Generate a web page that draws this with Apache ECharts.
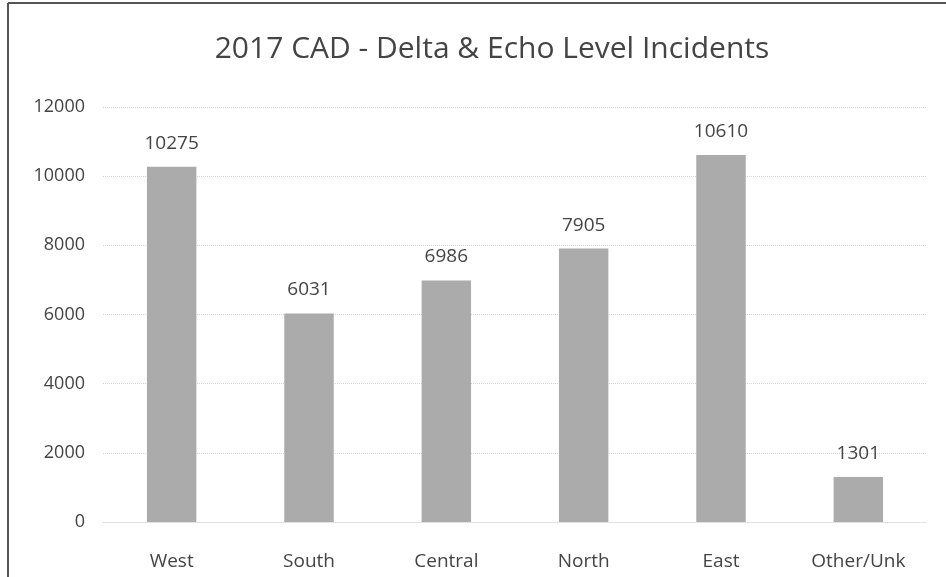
<!DOCTYPE html>
<html><head><meta charset="utf-8">
<script src="https://cdn.jsdelivr.net/npm/echarts@6/dist/echarts.min.js"></script>
<style>html,body{margin:0;padding:0;background:#fff}#c{width:946px;height:577px}</style>
</head><body><div id="c"></div>
<script>
const categories = ['West','South','Central','North','East','Other/Unk'];
const incidents = [10275, 6031, 6986, 7905, 10610, 1301];
const yTicks = [0, 2000, 4000, 6000, 8000, 10000, 12000];

const chart = echarts.init(document.getElementById('c'));
chart.setOption({
  animation: false,
  backgroundColor: '#fff',
  title: {
    text: '2017 CAD - Delta & Echo Level Incidents',
    left: 487, top: 29, textAlign: 'center',
    textStyle: {fontFamily: 'Open Sans', fontWeight: 'normal', fontSize: 30, color: '#444'}
  },
  graphic: [
    {type:'line', shape:{x1:8,y1:3,x2:946,y2:3}, style:{stroke:'#555', lineWidth:2}},
    {type:'line', shape:{x1:8,y1:3,x2:8,y2:577}, style:{stroke:'#555', lineWidth:2}}
  ],
  grid: {left: 103, right: 19, top: 107, bottom: 55},
  xAxis: {
    type: 'category', data: categories,
    axisLine: {show: true, lineStyle: {color: '#dcdcdc', type: 'dotted'}},
    axisTick: {show: false},
    axisLabel: {fontFamily: 'Open Sans', fontSize: 19, color: '#444', margin: 30}
  },
  yAxis: {
    type: 'value', min: 0, max: 12000, interval: 2000,
    axisLine: {show: false}, axisTick: {show: false},
    axisLabel: {fontFamily: 'Open Sans', fontSize: 18, color: '#444', margin: 18,
      formatter: v => yTicks.includes(v) ? String(v) : ''},
    splitLine: {lineStyle: {color: '#d4d4d4', type: 'dotted', width: 1}}
  },
  series: [{
    type: 'bar', data: incidents, barWidth: '36%',
    itemStyle: {color: '#ababab'},
    label: {show: true, position: 'top', distance: 14, fontFamily: 'Open Sans', fontSize: 19, color: '#444'}
  }]
});
</script></body></html>
